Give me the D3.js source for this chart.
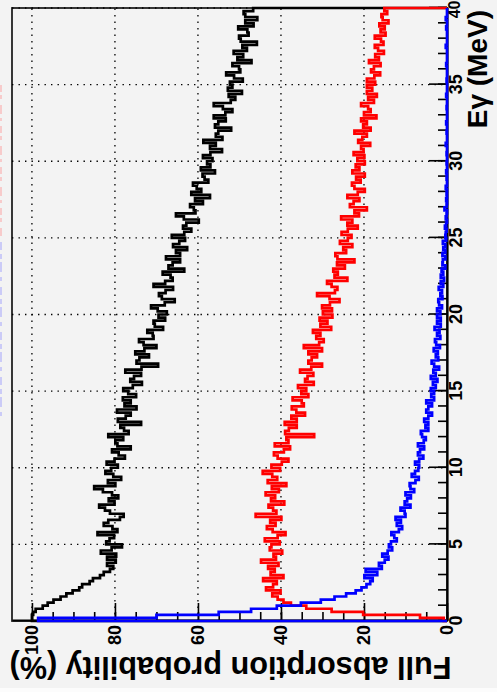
<!DOCTYPE html>
<html>
<head>
<meta charset="utf-8">
<script src="https://cdn.jsdelivr.net/npm/d3@7"></script>
<style>
  html, body { margin: 0; padding: 0; background: #f3f3f3; }
  svg { display: block; }
</style>
</head>
<body>
<svg id="chart" width="497" height="692"></svg>
<script>
// ---- data -------------------------------------------------------------
const energyRange = [0, 40];          // MeV
const binWidth = 0.2;                 // MeV per histogram bin
const energyTicks = [0, 5, 10, 15, 20, 25, 30, 35, 40];
const probTicks = [0, 20, 40, 60, 80, 100];
const energyTitle = "E\u03b3 (MeV)";
const probTitle = "Full absorption probability (%)";

// full absorption probability (%) per 0.2 MeV bin
const probBlack = [
  100, 100, 99.7, 99.1, 97.4, 96.2, 94.8, 93.1, 91.7, 90.2,
  88.6, 87.9, 86.1, 85.3, 83.6, 82.7, 81.2, 80.4, 81.9, 79.8,
  81.9, 79.7, 83.4, 80.8, 78.3, 82.1, 81.3, 80.2, 84.2, 79.4,
  80.6, 82.7, 81.6, 78.8, 77.9, 81.2, 82.4, 83.8, 80.1, 81.5,
  79.2, 80.7, 82.9, 85.0, 79.9, 81.7, 78.5, 80.4, 82.3, 80.9,
  79.3, 82.0, 80.1, 77.6, 79.1, 80.7, 76.2, 79.4, 79.9, 78.0,
  81.6, 76.7, 77.8, 78.7, 73.7, 79.3, 77.4, 76.2, 79.5, 74.8,
  77.7, 76.2, 78.1, 74.9, 76.8, 78.0, 75.7, 73.5, 76.3, 75.4,
  73.7, 77.5, 73.6, 69.6, 74.8, 74.1, 71.8, 75.1, 72.9, 70.0,
  73.1, 74.2, 70.7, 70.9, 72.2, 68.4, 70.4, 70.7, 67.9, 69.5,
  67.5, 69.7, 71.3, 68.0, 65.6, 68.7, 69.4, 67.8, 66.0, 70.7,
  67.9, 66.1, 66.6, 68.5, 63.3, 67.1, 66.1, 64.3, 67.7, 64.3,
  65.3, 62.6, 66.0, 64.5, 63.1, 66.3, 63.3, 61.6, 63.6, 62.8,
  59.8, 63.4, 65.3, 60.6, 61.0, 61.9, 58.8, 60.7, 57.1, 61.6,
  59.2, 60.3, 61.2, 57.5, 58.4, 58.9, 55.9, 59.3, 57.0, 57.8,
  56.5, 58.8, 57.0, 54.2, 57.1, 55.7, 58.7, 54.1, 55.7, 55.1,
  52.0, 55.9, 55.1, 53.3, 56.2, 53.4, 51.7, 54.0, 56.2, 52.1,
  51.0, 52.6, 49.4, 52.8, 51.7, 52.3, 49.2, 51.3, 53.2, 49.8,
  50.1, 51.7, 47.1, 50.5, 49.1, 51.4, 48.2, 49.3, 45.8, 49.7,
  50.1, 47.8, 48.1, 50.3, 46.6, 48.6, 45.7, 48.6, 49.0, 46.7
];

const probRed = [
  0.8, 6.5, 20.2, 27.8, 33.9, 37.6, 39.4, 40.8, 42.1, 40.1,
  43.6, 41.9, 41.0, 44.3, 39.4, 42.5, 41.5, 43.1, 40.6, 44.8,
  41.2, 41.8, 39.7, 42.7, 42.3, 40.3, 43.9, 40.8, 38.9, 42.0,
  43.4, 41.3, 42.6, 39.9, 46.1, 41.1, 41.9, 43.0, 39.2, 42.4,
  41.4, 43.7, 40.5, 42.2, 38.7, 43.2, 40.9, 42.1, 44.4, 40.2,
  42.3, 39.8, 38.2, 40.8, 41.7, 39.3, 37.8, 41.5, 38.2, 38.7,
  32.0, 39.0, 38.1, 36.2, 39.1, 36.2, 37.5, 34.2, 36.3, 37.4,
  34.5, 35.0, 37.2, 33.4, 35.1, 33.9, 35.9, 32.1, 34.2, 33.6,
  32.2, 35.4, 32.7, 30.1, 33.4, 32.6, 31.3, 33.4, 30.1, 34.5,
  30.8, 29.7, 31.5, 30.5, 32.3, 27.9, 30.5, 28.8, 30.7, 27.6,
  29.9, 27.7, 30.1, 28.2, 25.9, 28.3, 31.3, 27.0, 26.4, 27.8,
  28.9, 24.0, 27.1, 26.3, 27.4, 24.6, 26.5, 22.3, 26.4, 26.9,
  24.3, 25.0, 22.8, 25.8, 23.9, 23.0, 25.4, 23.9, 21.5, 24.0,
  22.8, 25.5, 21.2, 22.3, 19.3, 23.4, 22.5, 21.1, 24.0, 21.5,
  19.8, 22.3, 22.9, 20.8, 21.9, 19.8, 22.8, 21.1, 22.0, 19.8,
  21.6, 19.9, 22.5, 20.1, 20.7, 18.5, 21.4, 20.4, 19.3, 22.3,
  18.4, 20.2, 19.3, 20.7, 17.0, 20.0, 18.4, 19.0, 20.7, 17.6,
  19.0, 16.9, 19.3, 18.0, 19.3, 17.3, 19.3, 17.5, 16.1, 18.3,
  17.6, 16.0, 18.8, 16.4, 17.3, 15.2, 16.6, 17.4, 15.3, 15.9,
  17.4, 14.8, 16.0, 15.0, 16.3, 14.1, 15.5, 15.8, 14.4, 15.1
];

const probBlue = [
  98.5, 70.0, 55.0, 47.2, 41.0, 35.2, 30.4, 27.1, 24.3, 22.0,
  20.6, 19.4, 18.5, 17.9, 19.9, 16.8, 19.6, 15.7, 16.4, 15.0,
  14.1, 15.6, 14.3, 13.2, 14.0, 13.5, 12.1, 12.7, 13.4, 11.6,
  10.8, 12.1, 11.1, 12.4, 10.0, 10.2, 11.2, 8.8, 10.2, 9.6,
  8.7, 10.0, 7.9, 8.8, 9.0, 7.6, 6.8, 8.5, 7.7, 6.9,
  6.7, 7.7, 6.7, 5.7, 7.0, 6.5, 5.5, 7.0, 5.6, 5.1,
  6.0, 6.3, 4.5, 5.2, 4.5, 5.5, 4.5, 3.6, 5.0, 4.5,
  3.6, 5.0, 3.1, 3.8, 3.1, 3.9, 2.7, 3.4, 2.3, 3.9,
  2.7, 3.3, 1.9, 3.1, 3.7, 2.1, 2.7, 2.2, 3.2, 1.7,
  2.6, 2.9, 1.6, 2.4, 1.8, 3.0, 1.5, 2.4, 1.5, 2.4,
  1.6, 2.4, 1.2, 1.9, 2.1, 1.1, 1.6, 1.2, 2.0, 0.9,
  1.5, 0.7, 1.5, 0.9, 1.3, 0.4, 1.1, 1.0, 0.4, 1.1,
  0.4, 0.9, 0.4, 1.0, 0.2, 0.4, 0.3, 0.1, 0.5, 0.2,
  0.0, 0.3, 0.1, 0.0, 0.6, 0.1, 0.0, 0.2, 0.0, 0.1,
  0.0, 0.3, 0.0, 0.0, 0.1, 0.0, 0.2, 0.0, 0.0, 0.1,
  0.0, 0.0, 0.1, 0.0, 0.0, 0.3, 0.0, 0.0, 0.0, 0.1,
  0.0, 0.0, 0.2, 0.0, 0.0, 0.0, 0.0, 0.1, 0.0, 0.0,
  0.0, 0.2, 0.0, 0.0, 0.0, 0.0, 0.1, 0.0, 0.0, 0.0,
  0.0, 0.2, 0.0, 0.0, 0.0, 0.0, 0.0, 0.3, 0.0, 0.0,
  0.0, 0.0, 0.0, 0.2, 0.0, 0.0, 0.3, 0.0, 0.0, 0.0
];

const seriesColors = { black: "#000000", red: "#ff0000", blue: "#0000ff" };

// ---- layout -------------------------------------------------------------
const W = 497, H = 692;
const FONT = "'Liberation Sans', Arial, Helvetica, sans-serif";
// the canvas is drawn turned a quarter turn: energy runs upward along the
// right edge, probability runs leftward along the bottom edge
const frame = { left: 12, right: 447, top: 8, bottom: 621 };
const alongE = frame.bottom - frame.top;   // length of the energy axis
const alongP = frame.right - frame.left;   // length of the probability axis
const probMax = 104.8;

const svg = d3.select("#chart");
svg.append("rect").attr("width", W).attr("height", H).attr("fill", "#f3f3f3");
svg.append("rect").attr("y", 688).attr("width", W).attr("height", 4).attr("fill", "#fcfcfc");

// faint remnants of legend text at the far left edge
svg.append("line").attr("x1", 1).attr("x2", 1).attr("y1", 85).attr("y2", 236)
  .attr("stroke", "#ff8080").attr("stroke-opacity", 0.35).attr("stroke-width", 2)
  .attr("stroke-dasharray", "7,3,4,6,9,4,3,5");
svg.append("line").attr("x1", 1).attr("x2", 1).attr("y1", 242).attr("y2", 420)
  .attr("stroke", "#8080ff").attr("stroke-opacity", 0.35).attr("stroke-width", 2)
  .attr("stroke-dasharray", "8,4,5,3,10,5,4,6");

const x = d3.scaleLinear().domain(energyRange).range([0, alongE]);
const y = d3.scaleLinear().domain([0, probMax]).range([alongP, 0]);

const g = svg.append("g")
  .attr("transform", `translate(${frame.left},${frame.bottom}) rotate(-90)`);

// frame
g.append("rect").attr("x", 0).attr("y", 0).attr("width", alongE).attr("height", alongP)
  .attr("fill", "none").attr("stroke", "#222").attr("stroke-width", 1.8);

// dotted grid at every major tick
const grid = g.append("g").attr("stroke", "#000").attr("stroke-width", 1.3)
  .attr("stroke-dasharray", "1.4,5.1");
grid.selectAll("line.ge").data(energyTicks.filter(d => d > energyRange[0]))
  .join("line").attr("class", "ge")
  .attr("x1", d => x(d)).attr("x2", d => x(d)).attr("y1", 0).attr("y2", alongP);
grid.selectAll("line.gp").data(probTicks.filter(d => d > 0))
  .join("line").attr("class", "gp")
  .attr("x1", 0).attr("x2", alongE).attr("y1", d => y(d)).attr("y2", d => y(d));

// axes (ticks point into the frame)
const energyMinor = d3.range(energyRange[0], energyRange[1] + 1, 1);
const probMinor = d3.range(0, 101, 5);

const gxMinor = g.append("g").attr("transform", `translate(0,${alongP})`)
  .call(d3.axisBottom(x).tickValues(energyMinor).tickSizeInner(-9).tickSizeOuter(0).tickFormat(""));
gxMinor.select(".domain").remove();
const gx = g.append("g").attr("transform", `translate(0,${alongP})`)
  .call(d3.axisBottom(x).tickValues(energyTicks).tickSizeInner(-18).tickSizeOuter(0)
    .tickPadding(2).tickFormat(d3.format("d")));

const gyMinor = g.append("g")
  .call(d3.axisLeft(y).tickValues(probMinor).tickSizeInner(-9).tickSizeOuter(0).tickFormat(""));
gyMinor.select(".domain").remove();
const gy = g.append("g")
  .call(d3.axisLeft(y).tickValues(probTicks).tickSizeInner(-18).tickSizeOuter(0)
    .tickPadding(4).tickFormat(d3.format("d")));

[gx, gy, gxMinor, gyMinor].forEach(a => {
  a.selectAll("line").attr("stroke", "#000").attr("stroke-width", 1.6);
  a.select(".domain").attr("stroke", "#000").attr("stroke-width", 2.2);
  a.selectAll("text").attr("fill", "#000").attr("font-family", FONT)
    .attr("font-weight", "bold").attr("font-size", 18);
});

// the last energy label is pulled back inside the canvas edge
gx.selectAll(".tick").filter(d => d === energyRange[1]).select("text")
  .attr("text-anchor", "end").attr("x", 7).attr("font-size", 16);

// histograms drawn as step outlines closed to zero at both ends
function outline(vals) {
  const pts = [[energyRange[0], 0]];
  vals.forEach((v, i) => {
    const lo = energyRange[0] + i * binWidth;
    pts.push([lo, v], [lo + binWidth, v]);
  });
  pts.push([energyRange[0] + vals.length * binWidth, 0]);
  return pts;
}
const stepLine = d3.line().x(d => x(d[0])).y(d => y(d[1]));
[[probBlack, seriesColors.black], [probRed, seriesColors.red], [probBlue, seriesColors.blue]]
  .forEach(([vals, col]) => {
    g.append("path").attr("d", stepLine(outline(vals)))
      .attr("fill", "none").attr("stroke", col).attr("stroke-width", 2.7)
      .attr("stroke-linejoin", "miter");
  });

// axis titles
const pt = svg.append("text")
  .attr("transform", `translate(${(frame.left + frame.right) / 2 + 1},657) rotate(180)`)
  .attr("text-anchor", "middle").attr("font-family", FONT).attr("font-weight", "bold")
  .attr("font-size", 30).attr("fill", "#000").text(probTitle);
const ptLen = pt.node().getComputedTextLength();
pt.attr("font-size", 30 * 442 / ptLen);

svg.append("text")
  .attr("transform", `translate(487,10) rotate(-90)`)
  .attr("text-anchor", "end").attr("font-family", FONT).attr("font-weight", "bold")
  .attr("font-size", 28).attr("fill", "#000").text(energyTitle);
</script>
</body>
</html>
